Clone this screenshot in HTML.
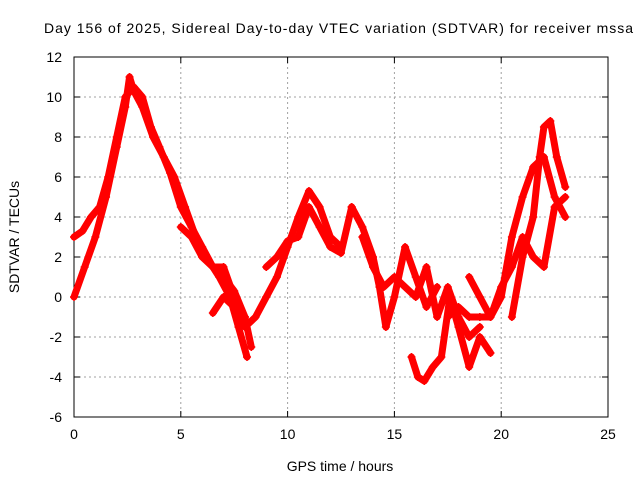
<!DOCTYPE html>
<html><head><meta charset="utf-8"><style>
body{margin:0;background:#fff;}
svg text{font-family:"Liberation Sans",sans-serif;font-size:14px;fill:#000;}
</style></head><body>
<svg id="chart" width="640" height="480" xmlns="http://www.w3.org/2000/svg">
<rect width="640" height="480" fill="#fff"/>
<text x="44" y="33" textLength="589" lengthAdjust="spacing">Day 156 of 2025, Sidereal Day-to-day VTEC variation (SDTVAR) for receiver mssa</text>
<g id="grid"></g>
<g id="axes"></g>
<g id="marks"></g>
<text x="340" y="471" text-anchor="middle">GPS time / hours</text>
<text transform="translate(19,237) rotate(-90)" text-anchor="middle">SDTVAR / TECUs</text>
</svg>
<script>
const xTicks=[0,5,10,15,20,25];
const yTicks=[-6,-4,-2,0,2,4,6,8,10,12];
const trackA_t=[0,0.5,1,1.5,2,2.4,2.6,2.8,3.2,3.7,4.2,4.7,5.2,5.7,6.2,6.8,7.3,7.7,8.1];
const trackA_v=[0,1.5,3,5,7.5,9.5,11,10.3,9.5,8,7,6,4.5,3,2,1,0,-1.5,-3];
const trackB_t=[0,0.4,0.8,1.2,1.6,2,2.4,2.8,3.2,3.6,4,4.5,5,5.5,6,6.5,7,7.5,8];
const trackB_v=[3,3.3,4,4.5,6,8,10,10.5,10,8.5,7.5,6.2,4.5,3.5,2.5,1.5,1,0.3,-1];
const trackC_t=[5,5.5,6,6.5,7,7.5,8,8.3];
const trackC_v=[3.5,3,2,1.5,1.5,0,-1,-2.5];
const trackD_t=[6.5,7,7.5,8,8.5,9,9.5,10,10.5,11,11.5,12,12.5];
const trackD_v=[-0.8,0,-0.5,-1.5,-1,0,1,2.5,4,5.3,4.5,3,2.5];
const trackE_t=[9,9.5,10,10.5,11,11.5,12,12.5,13];
const trackE_v=[1.5,2,2.8,3,4.5,3.5,2.5,2.2,4.5];
const trackF_t=[13,13.5,14,14.3,14.6,15,15.5,16,16.5,17];
const trackF_v=[4.5,3.5,2,0.5,-1.5,0,2.5,1,-0.5,0.5];
const trackG_t=[13.5,14,14.5,15,15.5,16,16.5,17,17.5,18,18.5,19];
const trackG_v=[3,1.5,0.5,1,0.5,0,1.5,-1,0.5,-1,-2,-1.5];
const trackH_t=[15.8,16.1,16.4,16.8,17.2,17.6,18,18.5,19,19.5];
const trackH_v=[-3,-4,-4.2,-3.5,-3,0,-1.5,-3.5,-2,-2.8];
const trackI_t=[17.5,18,18.5,19,19.5,20,20.5,21,21.5,22,22.5,23];
const trackI_v=[-1,-0.5,-1,-1,-1,0,3,5,6.5,7,5,4];
const trackJ_t=[20.5,21,21.5,21.8,22,22.3,22.6,23];
const trackJ_v=[-1,2,4,7,8.5,8.8,7,5.5];
const trackK_t=[18.5,19,19.5,20,20.5,21,21.5,22,22.5,23];
const trackK_v=[1,0,-1,0.5,1.5,3,2,1.5,4.5,5];
const tracks=[[trackA_t,trackA_v],[trackB_t,trackB_v],[trackC_t,trackC_v],[trackD_t,trackD_v],[trackE_t,trackE_v],[trackF_t,trackF_v],[trackG_t,trackG_v],[trackH_t,trackH_v],[trackI_t,trackI_v],[trackJ_t,trackJ_v],[trackK_t,trackK_v]];
const X0=74,X1=608,Y0=417,Y1=57;
const xs=t=>X0+(X1-X0)*t/25;
const ys=v=>Y0-(Y0-Y1)*(v+6)/18;
const NS="http://www.w3.org/2000/svg";
function mk(tag,attrs,parent){const e=document.createElementNS(NS,tag);for(const k in attrs)e.setAttribute(k,attrs[k]);parent.appendChild(e);return e;}
const grid=document.getElementById('grid'),axes=document.getElementById('axes'),marks=document.getElementById('marks');
xTicks.forEach(t=>{const x=xs(t);
 if(t>0&&t<25){const g=mk('line',{x1:x,x2:x,y1:Y1,y2:Y0,stroke:'#a0a0a0','stroke-dasharray':'2,3','stroke-width':1},grid);
 
 }
 const l=mk('text',{x:x,y:Y0+22,'text-anchor':'middle'},axes);l.textContent=t;
 
 
 mk('line',{x1:x,x2:x,y1:Y0,y2:Y0-6,stroke:'#000'},axes);mk('line',{x1:x,x2:x,y1:Y1,y2:Y1+6,stroke:'#000'},axes);});
yTicks.forEach(v=>{const y=ys(v);
 if(v>-6&&v<12){const g=mk('line',{x1:X0,x2:X1,y1:y,y2:y,stroke:'#a0a0a0','stroke-dasharray':'2,3','stroke-width':1},grid);
 
 }
 const l=mk('text',{x:X0-12,y:y+5,'text-anchor':'end'},axes);l.textContent=v;
 
 
 mk('line',{x1:X0,x2:X0+6,y1:y,y2:y,stroke:'#000'},axes);mk('line',{x1:X1,x2:X1-6,y1:y,y2:y,stroke:'#000'},axes);});
mk('rect',{x:X0,y:Y1,width:X1-X0,height:Y0-Y1,fill:'none',stroke:'#000'},axes);
tracks.forEach(([T,V])=>{
 const pts=T.map((t,i)=>xs(t)+','+ys(V[i])).join(' ');
 const p=mk('polyline',{points:pts,fill:'none',stroke:'#f00','stroke-width':7,'stroke-linejoin':'round','stroke-linecap':'round'},marks);
 
 
 T.forEach((t,i)=>{const x=xs(t),y=ys(V[i]);
  const m=mk('path',{d:`M${x-4},${y}H${x+4}M${x},${y-4}V${y+4}`,stroke:'#f00','stroke-width':1.5},marks);
  
  });
});
</script>
</body></html>
